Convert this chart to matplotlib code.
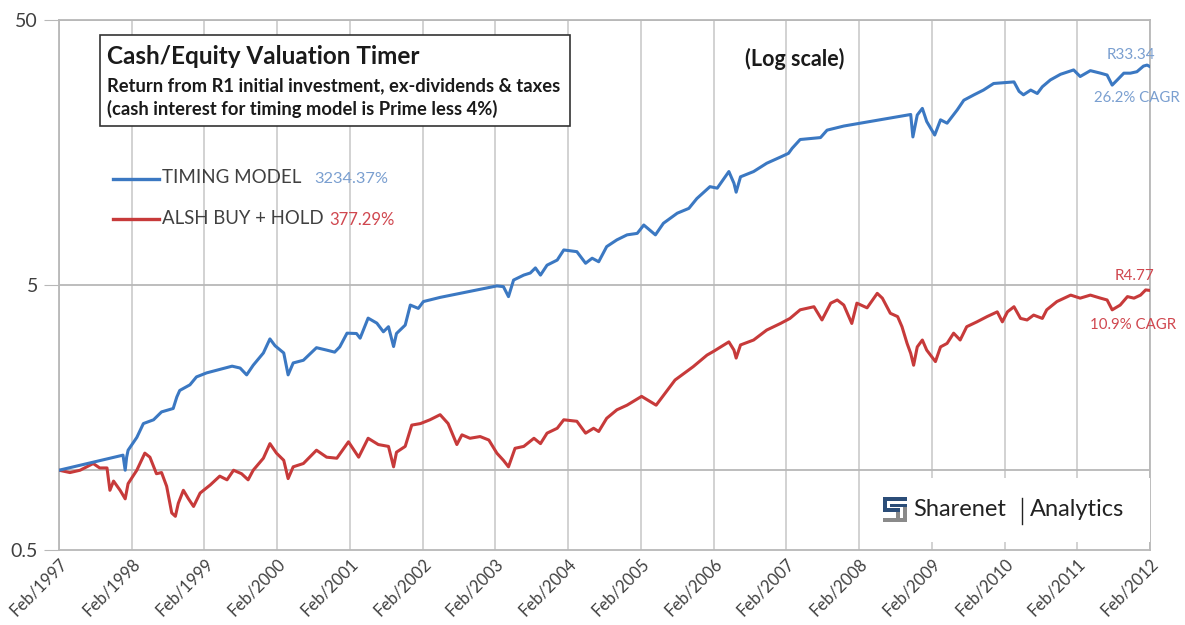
import matplotlib
matplotlib.use("Agg")
import matplotlib.pyplot as plt
from matplotlib.patches import Rectangle

plt.rcParams['font.family'] = ['Lato', 'DejaVu Sans']

# years since Feb/1997 and value of R1 invested
t_timing = [0.00, 0.88, 0.91, 0.93, 0.95, 1.07, 1.16, 1.30, 1.41, 1.57, 1.62, 1.66, 1.80, 1.89,
            2.03, 2.38, 2.49, 2.58, 2.67, 2.81, 2.90, 2.97, 3.09, 3.15, 3.22, 3.36, 3.54, 3.68,
            3.79, 3.86, 3.96, 4.09, 4.14, 4.25, 4.37, 4.46, 4.53, 4.60, 4.64, 4.76, 4.83, 4.94,
            5.01, 5.24, 6.02, 6.11, 6.18, 6.25, 6.39, 6.48, 6.55, 6.62, 6.71, 6.85, 6.94, 7.12,
            7.24, 7.33, 7.42, 7.53, 7.67, 7.81, 7.95, 8.04, 8.20, 8.31, 8.50, 8.66, 8.77, 8.95,
            9.05, 9.21, 9.28, 9.31, 9.37, 9.55, 9.73, 9.92, 10.03, 10.08, 10.19, 10.47, 10.56,
            10.79, 11.71, 11.74, 11.80, 11.87, 11.93, 12.04, 12.12, 12.21, 12.35, 12.44, 12.58,
            12.71, 12.85, 13.13, 13.20, 13.26, 13.36, 13.45, 13.52, 13.63, 13.77, 13.95, 14.04,
            14.18, 14.32, 14.41, 14.48, 14.55, 14.64, 14.73, 14.82, 14.91, 14.96, 15.00]
v_timing = [1.00, 1.14, 1.00, 1.12, 1.19, 1.33, 1.50, 1.55, 1.66, 1.71, 1.89, 2.00, 2.10, 2.25,
            2.33, 2.47, 2.43, 2.29, 2.49, 2.77, 3.13, 2.95, 2.77, 2.29, 2.54, 2.60, 2.90, 2.84,
            2.79, 2.92, 3.29, 3.28, 3.15, 3.75, 3.59, 3.33, 3.48, 2.93, 3.28, 3.53, 4.20, 4.08,
            4.33, 4.49, 4.96, 4.93, 4.52, 5.22, 5.45, 5.55, 5.80, 5.45, 5.94, 6.21, 6.78, 6.68,
            6.04, 6.31, 6.12, 6.98, 7.40, 7.73, 7.83, 8.42, 7.73, 8.55, 9.33, 9.73, 10.6, 11.75,
            11.6, 13.4, 12.1, 11.2, 12.8, 13.4, 14.4, 15.2, 15.7, 16.4, 17.7, 18.0, 19.2,
            19.9, 22.0, 18.1, 21.9, 23.2, 20.7, 18.4, 21.0, 20.4, 22.9, 24.9, 26.1,
            27.2, 28.8, 29.2, 26.9, 26.1, 27.2, 26.4, 28.0, 29.7, 31.2, 32.4, 30.6,
            32.2, 31.5, 31.0, 28.4, 29.7, 31.5, 31.5, 31.9, 33.5, 33.8, 33.34]

t_alsh = [0.00, 0.15, 0.29, 0.47, 0.56, 0.66, 0.70, 0.75, 0.84, 0.91, 0.95, 1.07, 1.18, 1.25,
          1.34, 1.41, 1.48, 1.55, 1.60, 1.64, 1.71, 1.78, 1.85, 1.94, 2.08, 2.21, 2.31, 2.40,
          2.51, 2.60, 2.67, 2.81, 2.90, 2.99, 3.09, 3.15, 3.22, 3.36, 3.54, 3.68, 3.82, 3.98,
          4.12, 4.25, 4.39, 4.53, 4.60, 4.64, 4.76, 4.85, 4.97, 5.10, 5.24, 5.35, 5.47, 5.54,
          5.65, 5.79, 5.91, 6.02, 6.11, 6.18, 6.27, 6.39, 6.53, 6.62, 6.71, 6.85, 6.94, 7.12,
          7.24, 7.35, 7.42, 7.53, 7.67, 7.81, 8.01, 8.21, 8.47, 8.72, 8.91, 9.00, 9.21, 9.28,
          9.31, 9.37, 9.55, 9.73, 9.92, 10.05, 10.19, 10.38, 10.49, 10.61, 10.70, 10.79, 10.90,
          10.97, 11.11, 11.25, 11.32, 11.43, 11.53, 11.59, 11.66, 11.71, 11.75, 11.80, 11.87,
          11.93, 12.00, 12.05, 12.12, 12.21, 12.30, 12.39, 12.48, 12.62, 12.76, 12.90, 12.97,
          13.04, 13.13, 13.22, 13.31, 13.40, 13.52, 13.58, 13.72, 13.91, 14.04, 14.18, 14.32,
          14.41, 14.48, 14.59, 14.69, 14.78, 14.87, 14.94, 15.00]
v_alsh = [1.00, 0.98, 1.00, 1.06, 1.02, 1.02, 0.84, 0.91, 0.84, 0.78, 0.89, 1.00, 1.16, 1.12,
          0.97, 0.98, 0.87, 0.69, 0.67, 0.75, 0.84, 0.78, 0.73, 0.82, 0.88, 0.95, 0.92, 1.00,
          0.97, 0.92, 1.00, 1.11, 1.26, 1.16, 1.09, 0.93, 1.03, 1.06, 1.19, 1.12, 1.11, 1.28,
          1.12, 1.32, 1.25, 1.23, 1.03, 1.17, 1.23, 1.48, 1.50, 1.55, 1.62, 1.50, 1.25, 1.36,
          1.32, 1.34, 1.30, 1.16, 1.09, 1.03, 1.21, 1.23, 1.32, 1.26, 1.38, 1.44, 1.55, 1.53,
          1.38, 1.44, 1.40, 1.57, 1.69, 1.76, 1.90, 1.76, 2.19, 2.46, 2.72, 2.81, 3.05, 2.84,
          2.65, 2.97, 3.10, 3.38, 3.58, 3.74, 4.03, 4.14, 3.69, 4.27, 4.39, 4.20, 3.58,
          4.27, 4.10, 4.65, 4.46, 3.91, 3.80, 3.48, 3.01, 2.76, 2.49, 2.92, 3.10,
          2.84, 2.68, 2.57, 2.92, 3.01, 3.29, 3.10, 3.48, 3.63, 3.80, 3.96, 3.63,
          3.96, 4.14, 3.74, 3.69, 3.85, 3.74, 4.03, 4.33, 4.58, 4.46, 4.58, 4.46,
          4.39, 4.03, 4.20, 4.52, 4.46, 4.58, 4.79, 4.77]

years = list(range(1997, 2013))
tick_labels = [f"Feb/{y}" for y in years]

BLUE, RED = "#3b78c2", "#c73a3a"
LBLUE, LRED = "#7a9fd0", "#d0474f"
GRID = "#cfcfcf"
W, H = 1185, 625

def fx(x): return x / W
def fy(y): return 1 - y / H

def box(x0, y0, x1, y1, **kw):
    # rectangle given in pixel coords (top-left origin)
    fig.patches.append(Rectangle((fx(x0), fy(y1)), fx(x1) - fx(x0), fy(y0) - fy(y1),
                                 transform=fig.transFigure, **kw))

fig = plt.figure(figsize=(W / 100, H / 100), dpi=100)
ax = fig.add_axes([fx(59), fy(550), fx(1150) - fx(59), fy(20) - fy(550)])
ax.set_yscale("log")
ax.set_xlim(0, 15); ax.set_ylim(0.5, 50)

for i in range(len(years)):
    ax.axvline(i, color=GRID, lw=1.3, zorder=0)
for lv in (1, 5, 50):
    ax.axhline(lv, color="#b8b8b8", lw=1.3, zorder=0)

ax.plot(t_alsh, v_alsh, color=RED, lw=2.2, zorder=3)
ax.plot(t_timing, v_timing, color=BLUE, lw=2.2, zorder=3)

ax.set_yticks([0.5, 5, 50]); ax.set_yticklabels(["0.5", "5", "50"])
ax.yaxis.set_minor_locator(matplotlib.ticker.NullLocator())
ax.set_xticks(range(len(years)))
ax.set_xticklabels(tick_labels, rotation=45, ha="right", rotation_mode="anchor", fontsize=12,
                   color="#404040")
ax.tick_params(axis="y", labelsize=14, colors="#404040", length=11, color="#b8b8b8", pad=4)
ax.tick_params(axis="x", length=0, pad=4)
for s in ax.spines.values():
    s.set_color("#b8b8b8"); s.set_linewidth(1.3)

# white patch behind the logo
box(878, 478, 1150, 542, facecolor="white", edgecolor="none", zorder=1.5)

# title box
box(100, 35, 570, 126, facecolor="white", edgecolor="#333333", lw=1.2, zorder=4)
fig.text(fx(107), fy(57), "Cash/Equity Valuation Timer", fontsize=17.5, fontweight="bold",
         color="#1a1a1a", va="center", zorder=5)
fig.text(fx(107), fy(86), "Return from R1 initial investment, ex-dividends & taxes",
         fontsize=13.2, fontweight="bold", color="#1a1a1a", va="center", zorder=5)
fig.text(fx(107), fy(109), "(cash interest for timing model is Prime less 4%)",
         fontsize=13.2, fontweight="bold", color="#1a1a1a", va="center", zorder=5)
fig.text(fx(795), fy(59), "(Log scale)", fontsize=15.5, fontweight="bold", color="#1a1a1a",
         ha="center", va="center")

# legend
fig.add_artist(plt.Line2D([fx(113), fx(159)], [fy(179), fy(179)], color=BLUE, lw=2.4))
fig.add_artist(plt.Line2D([fx(113), fx(159)], [fy(219), fy(219)], color=RED, lw=2.4))
fig.text(fx(162), fy(178), "TIMING MODEL", fontsize=13.5, color="#404040", va="center")
fig.text(fx(314), fy(179), "3234.37%", fontsize=11.8, color=LBLUE, va="center")
fig.text(fx(162), fy(219), "ALSH BUY + HOLD", fontsize=13.4, color="#404040", va="center")
fig.text(fx(329), fy(220), "377.29%", fontsize=12, color=LRED, va="center")

# end labels
fig.text(fx(1131), fy(55), "R33.34", fontsize=11, color=LBLUE, ha="center", va="center")
fig.text(fx(1137), fy(98), "26.2% CAGR", fontsize=10.8, color=LBLUE, ha="center", va="center")
fig.text(fx(1134), fy(276), "R4.77", fontsize=11, color=LRED, ha="center", va="center")
fig.text(fx(1133), fy(325), "10.9% CAGR", fontsize=10.8, color=LRED, ha="center", va="center")

# Sharenet logo
NAVY, GREY = "#2b4d78", "#8a8a8a"
for (x0, y0, x1, y1, c) in [(883, 497, 907, 501, NAVY), (883, 497, 887, 512, NAVY),
                            (883, 508, 900, 512, NAVY), (896, 512, 900, 518, GREY),
                            (883, 518, 907, 522, GREY), (903, 504, 907, 522, GREY),
                            (890, 504, 907, 507, NAVY)]:
    box(x0, y0, x1, y1, facecolor=c, edgecolor="none", zorder=5)
fig.text(fx(913), fy(510), "Sharenet", fontsize=17, color="#222222", va="center", zorder=6)
fig.add_artist(plt.Line2D([fx(1022), fx(1022)], [fy(498), fy(524)], color="#222222", lw=1.0))
fig.text(fx(1030), fy(510), "Analytics", fontsize=17, color="#222222", va="center", zorder=6)

fig.savefig("out.png", dpi=100)
